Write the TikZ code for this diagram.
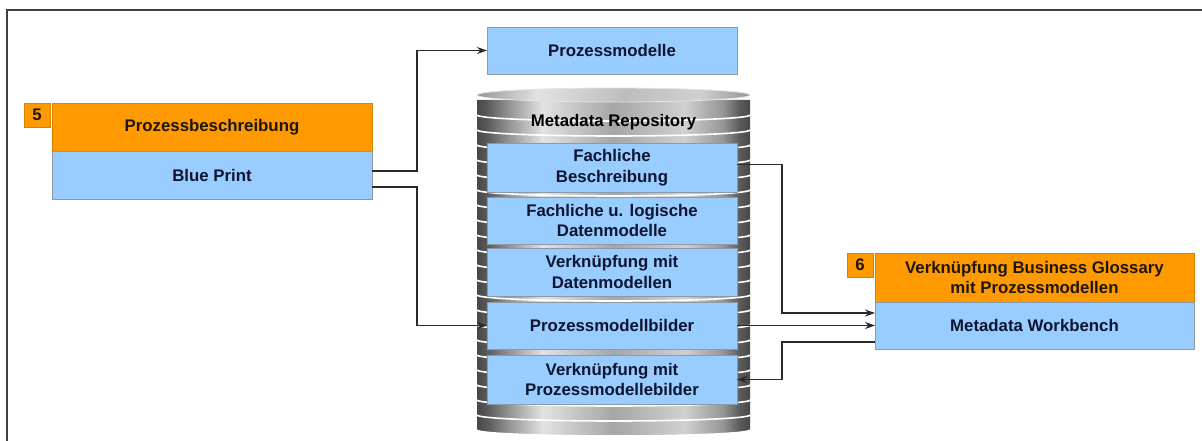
\documentclass[tikz,border=0pt]{standalone}
\usepackage{fontspec}
\setmainfont{Liberation Sans}
\usetikzlibrary{arrows.meta,calc}

\definecolor{boxorange}{HTML}{FF9900}
\definecolor{boxblue}{HTML}{99CCFF}
\definecolor{inkdark}{HTML}{1E1608}
\definecolor{inknavy}{HTML}{0D1530}
\definecolor{rim}{HTML}{8C9AA8}
\definecolor{frameline}{HTML}{404040}
\definecolor{wire}{HTML}{2A2A2A}
\definecolor{ga}{HTML}{474747}
\definecolor{gab}{HTML}{5C5C5C}
\definecolor{gb}{HTML}{969696}
\definecolor{gc}{HTML}{E2E2E2}
\definecolor{gd}{HTML}{A6A6A6}
\definecolor{ge}{HTML}{D0D0D0}
\definecolor{gf}{HTML}{BDBDBD}

% one disk of the stacked storage cylinder: dark rims, bright highlight on the left
% (TikZ maps the 25bp..75bp part of a shading onto the path)
\pgfdeclarehorizontalshading{disk}{100bp}{color(0bp)=(ga); color(25bp)=(ga); color(27bp)=(gab); color(31bp)=(gb); color(37bp)=(gc); color(50bp)=(gd); color(63bp)=(ge); color(70bp)=(gb); color(73bp)=(gab); color(75bp)=(ga); color(100bp)=(ga)}
\pgfdeclarehorizontalshading{diskcap}{100bp}{color(0bp)=(gb); color(25bp)=(gb); color(36bp)=(gc); color(52bp)=(gf); color(66bp)=(ge); color(75bp)=(gb); color(100bp)=(gb)}

\tikzset{
  base/.style={inner sep=0pt, outer sep=0pt, align=center, font=\bfseries\fontsize{16.8}{20.5}\selectfont},
  orangebox/.style={base, fill=boxorange, draw=boxorange!85!black, line width=0.4pt, text=inkdark, anchor=north west},
  bluebox/.style={base, fill=boxblue, draw=rim, line width=0.5pt, text=inknavy, anchor=north west},
  badge/.style={base, fill=boxorange, draw=boxorange!85!black, line width=0.4pt, text=inkdark, anchor=north west, minimum width=26pt, minimum height=24pt},
  arr/.style={draw=wire, line width=1.1pt, -{Stealth[length=10pt,width=7pt]}},
}

\begin{document}
\begin{tikzpicture}[x=1pt, y=-1pt]
\useasboundingbox (0,0) rectangle (1202,441);

% outer frame, open towards the right and bottom
\draw[frameline, line width=1.4pt] (7,441) -- (7,10) -- (1202,10);

% ---- storage cylinder (stack of disks, drawn from bottom to top)
\foreach \i in {21,20,...,0}{
  \pgfmathsetmacro{\yt}{100+15*\i}
  \pgfmathsetmacro{\yb}{\yt+15}
  \shade[shading=disk] (477,\yt) -- (477,\yb)
      arc[start angle=180, end angle=360, x radius=136.5pt, y radius=6pt]
      -- (750,\yt) -- cycle;
  \draw[white, line width=1.6pt] (477,\yb)
      arc[start angle=180, end angle=360, x radius=136.5pt, y radius=6pt];
}
\shade[shading=diskcap] (613.5,95) ellipse[x radius=136.5pt, y radius=7pt];
\draw[white!80!gray, line width=0.8pt] (613.5,95) ellipse[x radius=136.5pt, y radius=7pt];

\node[base, text=black] (repo) at (613.5,122) {Metadata Repository};

% ---- contents of the repository
\node[bluebox, minimum width=250pt, minimum height=49pt] (fb) at (487,143) {Fachliche\\Beschreibung};
\node[bluebox, minimum width=250pt, minimum height=47pt] (fl) at (487,197) {Fachliche u. logische\\Datenmodelle};
\node[bluebox, minimum width=250pt, minimum height=48pt] (vd) at (487,248) {Verknüpfung mit\\Datenmodellen};
\node[bluebox, minimum width=250pt, minimum height=47pt] (pb) at (487,302) {Prozessmodellbilder};
\node[bluebox, minimum width=250pt, minimum height=49pt] (vp) at (487,355) {Verknüpfung mit\\Prozessmodellebilder};

% ---- process models on top
\node[bluebox, minimum width=250pt, minimum height=47pt] (pm) at (487,27) {Prozessmodelle};

% ---- step 5
\node[badge] (n5) at (24,103) {5};
\node[orangebox, minimum width=320pt, minimum height=48pt] (pd) at (52,103) {Prozessbeschreibung};
\node[bluebox, minimum width=320pt, minimum height=48pt] (bp) at (52,151) {Blue Print};

% ---- step 6
\node[badge] (n6) at (847,253) {6};
\node[orangebox, minimum width=319pt, minimum height=49pt] (vg) at (875,253) {Verknüpfung Business Glossary\\mit Prozessmodellen};
\node[bluebox, minimum width=319pt, minimum height=47pt] (mw) at (875,302) {Metadata Workbench};

% ---- routing columns
\coordinate (colL) at (417,0);
\coordinate (colR) at (782,0);
\coordinate (bpA) at ([yshift=4pt]bp.east);
\coordinate (bpB) at ([yshift=-12pt]bp.east);
\coordinate (fbOut) at ([yshift=3pt]fb.east);
\coordinate (mwIn) at ([yshift=12.5pt]mw.west);
\coordinate (mwOut) at ([yshift=-16.5pt]mw.west);

% ---- connectors
\draw[arr] (bpA) -| (colL |- pm.west) -- (pm.west);
\draw[arr] (bpB) -| (colL |- pb.west) -- (pb.west);
\draw[arr] (fbOut) -| (colR |- mwIn) -- (mwIn);
\draw[arr] (pb.east) -- (mw.west);
\draw[arr] (mwOut) -| (colR |- vp.east) -- (vp.east);
\end{tikzpicture}
\end{document}
